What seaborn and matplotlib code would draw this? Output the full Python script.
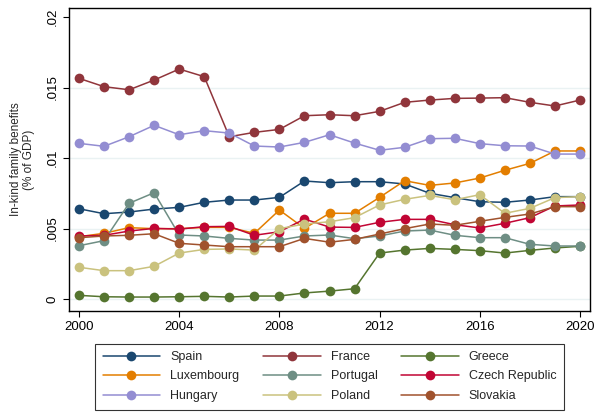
import numpy as np
import pandas as pd
import matplotlib
matplotlib.use("Agg")
import matplotlib.pyplot as plt
import seaborn as sns

# ==========================
# DATA
# ==========================
years = list(range(2000, 2021))

countries = ["Spain", "France", "Greece", "Luxembourg", "Portugal",
             "Czech Republic", "Hungary", "Poland", "Slovakia"]

spain = [.0064, .00605, .00617, .00638, .0065, .00686, .00702, .00702, .00721, .00837,
         .00825, .00832, .00832, .00816, .0075, .00719, .0069, .00686, .00702, .00726, .00726]
france = [.01565, .01506, .01484, .01553, .01631, .01577, .01151, .01182, .01203, .0130,
          .01307, .0130, .01331, .01395, .01411, .01423, .01425, .01428, .01395, .01369, .01411]
greece = [.00026, .00016, .00014, .00014, .00016, .00019, .00014, .00021, .00021, .00043,
          .00056, .00073, .00326, .00347, .00359, .00352, .00343, .00326, .00345, .00362, .00374]
luxembourg = [.00442, .00466, .00506, .00499, .00499, .00508, .00508, .00466, .00631, .00501,
              .00608, .00608, .00721, .00839, .00806, .00823, .00858, .00913, .00962, .0105, .0105]
portugal = [.00378, .00414, .00679, .00754, .00454, .00447, .0043, .00418, .00418, .00447,
            .00454, .00428, .00447, .00482, .00489, .00452, .00435, .00435, .00388, .00376, .00376]
czech = [.00447, .00452, .00482, .00501, .00496, .00513, .00515, .00452, .00477, .00567,
         .0051, .00508, .00544, .00565, .00565, .00527, .00504, .00537, .00577, .0066, .00667]
hungary = [.01104, .01083, .01151, .01232, .01165, .01194, .01177, .01085, .01078, .01111,
           .01165, .01106, .01055, .01076, .01137, .0114, .01102, .01087, .01085, .01028, .01028]
poland = [.00225, .00201, .00201, .00232, .00326, .00352, .00355, .00347, .00499, .00532,
          .00548, .00577, .00667, .00707, .00735, .00704, .0074, .00608, .00643, .00719, .00726]
slovakia = [.00435, .00447, .00452, .00463, .00395, .00383, .00371, .00371, .00371, .0043,
            .00403, .00423, .00461, .00499, .00532, .00523, .00551, .00579, .00603, .00655, .00655]

colors = ["#1a476f", "#90353b", "#55752f", "#e37e00", "#6e8e84",
          "#c10534", "#938dd2", "#cac27e", "#a0522d"]

yticks = [0, .005, .01, .015, .02]
ytick_labels = ["0", ".005", ".01", ".015", ".02"]
xticks = [2000, 2004, 2008, 2012, 2016, 2020]

series = [spain, france, greece, luxembourg, portugal, czech, hungary, poland, slovakia]
df = pd.DataFrame({
    "year": years * len(countries),
    "value": np.concatenate(series),
    "country": np.repeat(countries, len(years)),
})

# ==========================
# PLOT
# ==========================
sns.set_style("white")
plt.rcParams["font.family"] = ["Liberation Sans", "DejaVu Sans"]

fig = plt.figure(figsize=(5.94, 4.12), dpi=100)
ax = fig.add_axes([69 / 594, 1 - 311 / 412, (590 - 69) / 594, (311 - 8) / 412])

for y in yticks[:-1]:
    ax.axhline(y, color="#eaf2f3", linewidth=1, zorder=0)

sns.lineplot(
    data=df, x="year", y="value", hue="country",
    hue_order=countries, palette=colors,
    marker="o", markersize=7, markeredgewidth=0,
    linewidth=1.1, ax=ax,
)

ax.set_xlim(1999.6, 2020.4)
ax.set_ylim(-0.00085, 0.02064)
ax.set_xticks(xticks)
ax.set_yticks(yticks)
ax.set_yticklabels(ytick_labels, rotation=90, va="center")
ax.tick_params(axis="both", direction="out", length=4, width=0.8,
               labelsize=9.5, colors="black", left=True, bottom=True)
ax.set_xlabel("")
ax.set_ylabel("In-kind family benefits\n(% of GDP)", fontsize=8.5, labelpad=8)
for s in ax.spines.values():
    s.set_color("black")
    s.set_linewidth(1)

handles, labels = ax.get_legend_handles_labels()
ax.get_legend().remove()
# legend rows: Spain/France/Greece, Luxembourg/Portugal/Czech, Hungary/Poland/Slovakia
order = [0, 3, 6, 1, 4, 7, 2, 5, 8]
leg = fig.legend(
    [handles[i] for i in order], [labels[i] for i in order],
    ncol=3, loc="center",
    bbox_to_anchor=((99 + 560) / 2 / 594, 1 - (342 + 411) / 2 / 412),
    frameon=True, fancybox=False, edgecolor="black",
    fontsize=9, handlelength=4.6, columnspacing=1.9,
    handletextpad=0.8, labelspacing=0.6, borderpad=0.6, borderaxespad=0,
)
leg.get_frame().set_linewidth(0.8)

fig.savefig("out.png", dpi=100)
